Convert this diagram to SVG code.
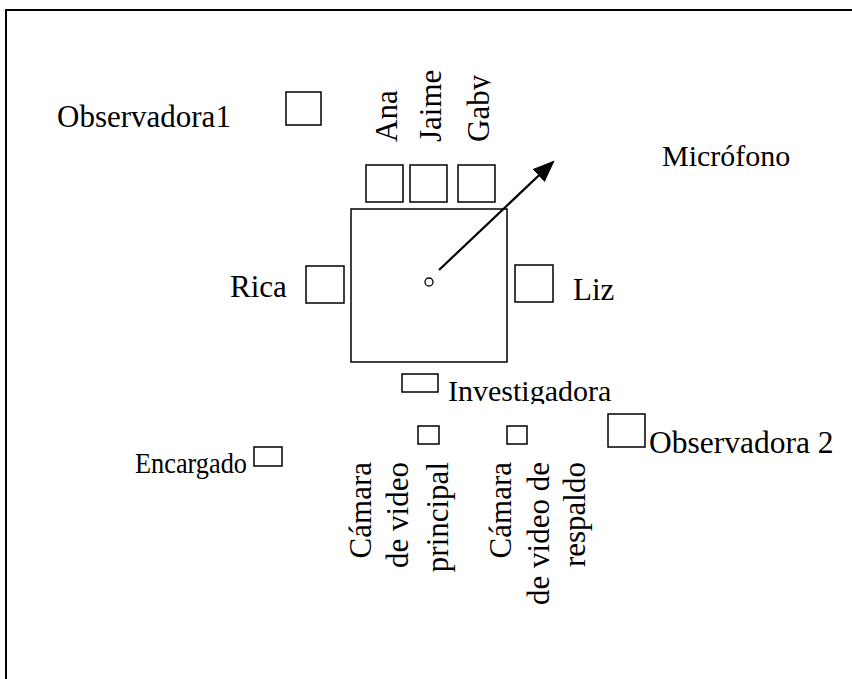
<svg xmlns="http://www.w3.org/2000/svg" width="852" height="679" viewBox="0 0 852 679">
<style>
  text { font-family: 'Liberation Serif', Tinos, 'Times New Roman', 'DejaVu Serif', serif; font-size: 31px; fill: #000; }
  .box { fill: #fff; stroke: #000; stroke-width: 1.5; }
  .frame { fill: none; stroke: #000; stroke-width: 2; }
</style>
<defs>
  <marker id="arrow" markerWidth="10" markerHeight="8" refX="9" refY="4" orient="auto" markerUnits="strokeWidth">
    <path d="M0,0 L10,4 L0,8 Z" fill="#000"/>
  </marker>
  <clipPath id="clipGaby"><rect x="440" y="40" width="50.5" height="120"/></clipPath>
  <clipPath id="clipInv"><rect x="440" y="370" width="200" height="34"/></clipPath>
</defs>
<rect width="852" height="679" fill="#fff"/>
<g id="frame">
  <path class="frame" d="M6,679 L6,10 L852,10"/>
</g>
<g id="mesa">
  <rect class="box" x="351" y="209" width="156" height="153"/>
  <circle cx="429" cy="282" r="4" fill="#fff" stroke="#000" stroke-width="1.3"/>
</g>
<g id="observadora1">
  <rect class="box" x="286" y="92" width="35" height="33"/>
  <text x="57" y="127">Observadora1</text>
</g>
<g id="ana">
  <rect class="box" x="366" y="165" width="37" height="37"/>
  <text transform="translate(397,142) rotate(-90)">Ana</text>
</g>
<g id="jaime">
  <rect class="box" x="410" y="165" width="37" height="37"/>
  <text transform="translate(441,142) rotate(-90)">Jaime</text>
</g>
<g id="gaby">
  <rect class="box" x="458" y="165" width="37" height="37"/>
  <g clip-path="url(#clipGaby)">
    <text transform="translate(489,142) rotate(-90)">Gaby</text>
  </g>
</g>
<g id="microfono">
  <text x="662" y="166" style="font-size:30px">Micrófono</text>
</g>
<g id="rica">
  <rect class="box" x="306" y="266" width="38" height="37"/>
  <text x="230" y="297">Rica</text>
</g>
<g id="liz">
  <rect class="box" x="515" y="265" width="38" height="37"/>
  <text x="573" y="300">Liz</text>
</g>
<g id="investigadora">
  <rect class="box" x="402" y="374" width="36" height="18"/>
  <g clip-path="url(#clipInv)">
    <text x="448" y="401" style="font-size:30px">Investigadora</text>
  </g>
</g>
<g id="camara-principal">
  <rect class="box" x="418" y="426" width="21" height="18"/>
  <text transform="translate(371,462) rotate(-90)" text-anchor="end">Cámara</text>
  <text transform="translate(408,462) rotate(-90)" text-anchor="end">de video</text>
  <text transform="translate(448,462) rotate(-90)" text-anchor="end">principal</text>
</g>
<g id="camara-respaldo">
  <rect class="box" x="507" y="426" width="20" height="18"/>
  <text transform="translate(511,462) rotate(-90)" text-anchor="end">Cámara</text>
  <text transform="translate(549,462) rotate(-90)" text-anchor="end">de video de</text>
  <text transform="translate(585,462) rotate(-90)" text-anchor="end">respaldo</text>
</g>
<g id="observadora2">
  <rect class="box" x="608" y="414" width="37" height="33"/>
  <text x="649" y="453" style="font-size:31.5px">Observadora 2</text>
</g>
<g id="encargado">
  <rect class="box" x="254" y="447" width="28" height="19"/>
  <text x="135" y="473" style="font-size:30px" textLength="112" lengthAdjust="spacingAndGlyphs">Encargado</text>
</g>
<g id="connectors">
  <line x1="439" y1="270" x2="553" y2="162" stroke="#000" stroke-width="2.2" marker-end="url(#arrow)"/>
</g>
</svg>
